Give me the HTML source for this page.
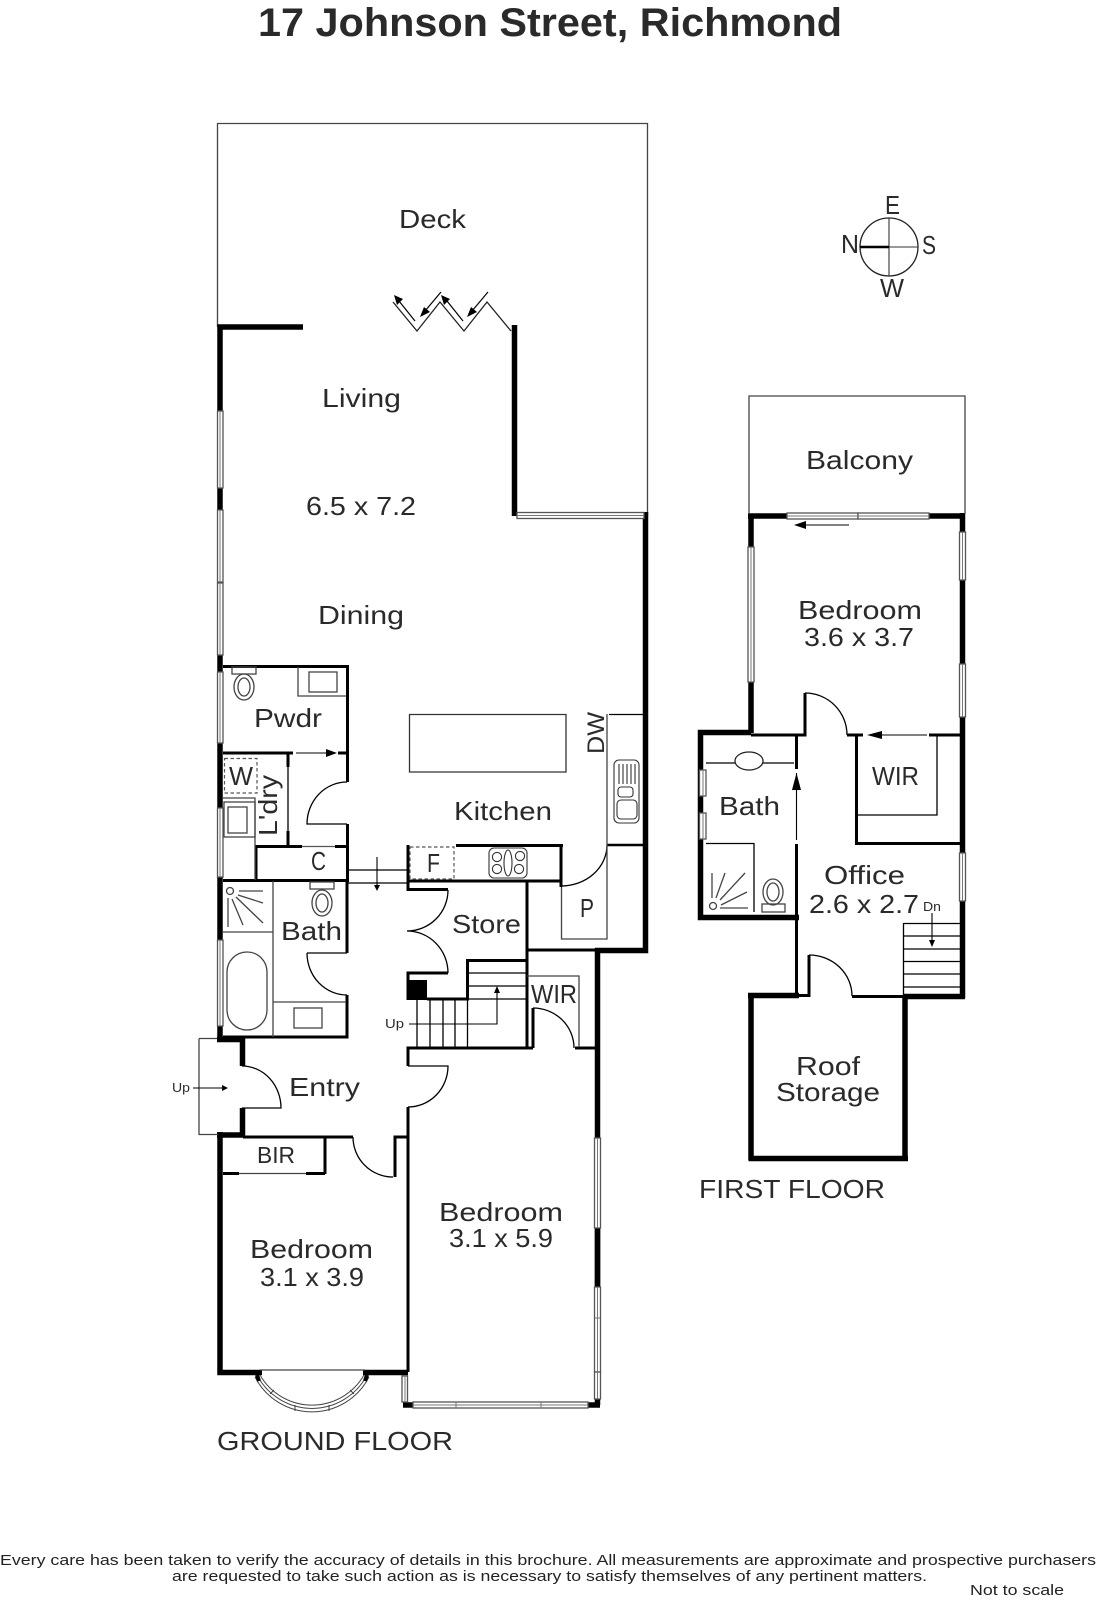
<!DOCTYPE html>
<html>
<head>
<meta charset="utf-8">
<style>
html,body{margin:0;padding:0;background:#fff;}
svg{display:block;}
text{font-family:"Liberation Sans",sans-serif;fill:#2a2a2a;}
.l{font-size:26px;}
.s{font-size:13px;}
.f{font-size:15px;fill:#222;}
.w{fill:#fff;stroke:#555;stroke-width:1.3;}
.c{stroke:#777;stroke-width:1;fill:none;}
.t{stroke:#444;stroke-width:1.3;fill:none;}
.k{stroke:#000;stroke-width:1.3;fill:none;}
</style>
</head>
<body>
<svg width="1097" height="1600" viewBox="0 0 1097 1600" xmlns="http://www.w3.org/2000/svg">
<rect width="1097" height="1600" fill="#fff"/>

<!-- title -->
<text x="258" y="36" font-size="40" font-weight="bold" textLength="584" lengthAdjust="spacingAndGlyphs">17 Johnson Street, Richmond</text>

<!-- deck outline -->
<path class="t" d="M217.5 327V123.5H647.5V516" stroke="#333"/>

<!-- thick walls 5-6px -->
<g fill="none" stroke="#000" stroke-width="5.5">
<path d="M303 327H220V1040"/>
<path d="M514.5 325V516"/>
<path d="M645.5 512V950.5H595"/>
<path d="M597.5 948V1287"/>
<path d="M597.5 1228V1405"/>
<path d="M220 1132V1372.5H262"/>
<path d="M363 1372.5H408"/>
<path d="M217 1039.5H242.5V1066"/>
<path d="M242.5 1108V1135H217"/>
<path d="M403 1405H413"/>
<path d="M588 1405H600"/>
<path d="M748 516H787"/>
<path d="M929 516H965"/>
<path d="M751 516V733"/>
<path d="M962.5 513V998"/>
<path d="M751 732.5H700.5V917.5H799"/>
<path d="M748 995.5H799"/>
<path d="M751 993V1160"/>
<path d="M905 996V1160"/>
<path d="M748.5 1158.5H908"/>
<path d="M903 996.5H965"/>
</g>

<!-- medium walls 3px -->
<g fill="none" stroke="#000" stroke-width="3">
<path d="M223 666.5H347.5V782"/>
<path d="M347.5 824V880.5H223"/>
<path d="M223 753H293"/>
<path d="M338 753H347"/>
<path d="M288 753V767"/>
<path d="M288 831V846"/>
<path d="M256 880V846.5H302"/>
<path d="M335 846.5H347"/>
<path d="M347 880V953"/>
<path d="M347 995V1037H223"/>
<path d="M408 845V889.5H448"/>
<path d="M408 881H561"/>
<path d="M561 845V887"/>
<path d="M456 845.5H563"/>
<path d="M527 881V1048"/>
<path d="M527 950H597"/>
<path d="M448 973H408V1000"/>
<path d="M427 999H467.5V960.5H527"/>
<path d="M408 1066V1048H533"/>
<path d="M533 1048V1008"/>
<path d="M575 1048H595"/>
<path d="M408 1107V1372"/>
<path d="M243 1137H353"/>
<path d="M408 1137H395V1177"/>
<path d="M325 1137V1174"/>
<path d="M223 1173.5H239"/>
<path d="M306 1173.5H325"/>
<path d="M751 735H805V693"/>
<path d="M847 735H863"/>
<path d="M929 735H960"/>
<path d="M796.5 735V769"/>
<path d="M796.5 844V996"/>
<path d="M856.5 735V843.5H960"/>
<path d="M796 995.5H809V955"/>
<path d="M852 996.5H903"/>
</g>

<!-- thin lines black -->
<g class="k">
<path d="M288 767V831"/>
<path d="M302 846.5H335" stroke="#555"/>
<path d="M609 714.5H643"/>
<path d="M409.5 714.5H566V772H409.5Z" stroke="#333"/>
<path d="M347 870H408"/>
<path d="M347 883H408" />
<path d="M467 973H527M467 986H527M467 999H527"/>
<path d="M417 999V1047M430 999V1047M443 999V1047M455 999V1047"/>
<path d="M467.5 999V1047"/>
<path d="M857 815H937V735"/>
<path d="M706 763H735M763 763H794"/>
<path d="M903.5 923.5H960M903.5 936H960M903.5 949H960M903.5 961.5H960M903.5 974H960M903.5 987H960M903.5 923V996"/>
<path d="M706 843.5H754V912"/>
<path d="M607 845H643" stroke-width="2.4"/>
</g>

<!-- door arcs -->
<g class="k">
<path d="M347 782A40 42 0 0 0 307 824H347"/>
<path d="M307 953H347M307 953A40 42 0 0 0 347 995"/>
<path d="M448 890A41 41 0 0 1 407 931A41 42 0 0 1 448 973"/>
<path d="M408 1066H448A40 41 0 0 1 408 1107"/>
<path d="M242 1066A39 42 0 0 1 281 1108H242"/>
<path d="M353 1137A40 40 0 0 0 393 1177"/>
<path d="M533 1008A41 40 0 0 1 574 1048"/>
<path d="M561 886A46 41 0 0 0 607 845"/>
<path d="M805 693A42 42 0 0 1 847 735"/>
<path d="M809 955A43 41 0 0 1 852 996"/>
</g>

<!-- gray lines -->
<g class="t">
<path d="M199 1038.5H217M199 1038.5V1134.5H218"/>
<path d="M239 1173.5H306"/>
<path d="M607 714V939H561.5V887"/>
<path d="M527 976H579V1047"/>
<path d="M298 667V696H346"/>
<rect x="309" y="672" width="28" height="20"/>
<path d="M223 798H255V880"/>
<rect x="224" y="802" width="31" height="35"/>
<rect x="228" y="807" width="19" height="26"/>
<path d="M223 932H273M273 881V1037M273 1002H346"/>
<rect x="294" y="1008" width="28" height="20"/>
<rect x="227" y="952" width="40" height="78" rx="20" ry="20"/>
<path d="M260 1370H365"/>
</g>

<!-- dashed appliances -->
<g fill="none" stroke="#555" stroke-width="1.2" stroke-dasharray="3.5 2.5">
<rect x="224.5" y="758.5" width="32.5" height="34.5"/>
<rect x="410" y="847" width="44" height="32"/>
</g>

<!-- toilets -->
<g class="t">
<rect x="232" y="667" width="24" height="7"/>
<ellipse cx="244" cy="687" rx="10" ry="13"/><ellipse cx="244" cy="687" rx="6" ry="9"/>
<rect x="310" y="882" width="24" height="7"/>
<ellipse cx="322" cy="903" rx="10" ry="13"/><ellipse cx="322" cy="903" rx="6" ry="9"/>
<rect x="762" y="904" width="23" height="8"/>
<ellipse cx="773" cy="892" rx="10" ry="13"/><ellipse cx="773" cy="892" rx="6" ry="9"/>
<ellipse cx="749" cy="761" rx="14" ry="9" stroke="#222"/>
</g>

<!-- shower heads -->
<g class="t">
<circle cx="230" cy="891" r="3.5"/>
<path d="M239 891H263M238 895L263 903M236 897L263 923M232 899L243 925M228 898V927"/>
<circle cx="713" cy="906" r="3.5"/>
<path d="M712 873V898M725 873L716 898M745 873L720 900M747 892L721 905M748 908H720"/>
</g>

<!-- kitchen fixtures -->
<g fill="none" stroke="#333" stroke-width="1.1">
<rect x="614" y="760" width="25" height="63" rx="5"/>
<rect x="618" y="787" width="15" height="10" rx="3"/>
<rect x="617" y="800" width="20" height="19" rx="4"/>
<path d="M619 764V784M623 764V784M627 764V784M631 764V784M635 764V784"/>
<rect x="489" y="848" width="38" height="30" rx="5"/>
<circle cx="497" cy="857" r="4.6"/><circle cx="520" cy="856" r="4.6"/>
<circle cx="497" cy="869" r="4.6"/><circle cx="519" cy="869" r="4.6"/>
<ellipse cx="508" cy="863" rx="4" ry="13"/>
</g>

<!-- stair pillar -->
<rect x="407" y="980" width="20" height="20" fill="#000"/>

<!-- windows -->
<g>
<rect class="w" x="217.5" y="411" width="5.5" height="77"/>
<rect class="w" x="217.5" y="510" width="5.5" height="72"/>
<rect class="w" x="217.5" y="583" width="5.5" height="72"/>
<rect class="w" x="217.5" y="672" width="5.5" height="71"/>
<rect class="w" x="217.5" y="808" width="5.5" height="69"/>
<rect class="w" x="217.5" y="940" width="5.5" height="86"/>
<rect class="w" x="517" y="512.5" width="127" height="6"/>
<rect class="w" x="594.5" y="1138" width="6" height="90"/>
<rect class="w" x="594.5" y="1287" width="6" height="85"/>
<rect class="w" x="594.5" y="1372" width="6" height="27"/>
<rect class="w" x="402" y="1376" width="5.5" height="26"/>
<rect class="w" x="413" y="1402" width="175" height="6"/>
<rect class="w" x="787" y="513" width="71" height="6"/>
<rect class="w" x="858" y="513" width="71" height="6"/>
<rect class="w" x="748" y="547" width="6" height="135"/>
<rect class="w" x="959.5" y="532" width="6" height="48"/>
<rect class="w" x="959.5" y="664" width="6" height="53"/>
<rect class="w" x="959.5" y="853" width="6" height="48"/>
<rect class="w" x="699.5" y="770" width="6.5" height="26"/>
<rect class="w" x="699.5" y="813" width="6.5" height="26"/>
</g>
<g class="c">
<path d="M220 411V488M220 510V582M220 583V655M220 672V743M220 808V877M220 940V1026"/>
<path d="M517 515.5H644"/>
<path d="M597.5 1138V1228M597.5 1287V1399M595 1318H600"/>
<path d="M405 1376V1402"/>
<path d="M413 1405H588M456 1402V1408M541 1402V1408"/>
<path d="M787 516H929"/>
<path d="M751 547V682M962.5 532V580M962.5 664V717M962.5 853V901"/>
<path d="M703 770V796M703 813V839"/>
</g>

<!-- bay window -->
<g fill="none" stroke="#444" stroke-width="1">
<path d="M255 1377A64 64 0 0 0 369 1377"/>
<path d="M257.5 1376A62 62 0 0 0 366.5 1376"/>
<path d="M260 1375A60 60 0 0 0 364 1375"/>
<path d="M270 1394L274 1390M295 1411V1405M329 1411V1405M350 1390L354 1394"/>
</g>
<path d="M257 1375L259 1381M367 1375L365 1381" stroke="#000" stroke-width="4" fill="none"/>

<!-- bifold door -->
<path d="M393 302L417 331L440 302L464 331L487 302L511 331" fill="none" stroke="#222" stroke-width="1.3"/>
<g fill="none" stroke="#000" stroke-width="1.2">
<path d="M415 321L399 301"/><path d="M441 292L425 311"/><path d="M463 321L447 301"/><path d="M488 292L472 311"/>
</g>
<g fill="#000">
<polygon points="394,295 403,299 397,305"/>
<polygon points="420,317 424,307 430,312"/>
<polygon points="441,295 450,299 444,305"/>
<polygon points="467,317 471,307 477,312"/>
</g>

<!-- arrows -->
<g stroke="#000" stroke-width="1.1" fill="none">
<path d="M296 753H326"/>
<path d="M377 857V885"/>
<path d="M409 1024H497V993"/>
<path d="M193 1088H222"/>
<path d="M806 525H849"/>
<path d="M878 735H927"/>
<path d="M796.500 773V840"/>
<path d="M932 913V940"/>
</g>
<g fill="#000">
<polygon points="326,749 337,753 326,757"/>
<polygon points="374,885 380,885 377,891"/>
<polygon points="494,993 500,993 497,986"/>
<polygon points="222,1085 228,1088 222,1091"/>
<polygon points="806,521 794,525 806,529"/>
<polygon points="882,731 867,735 882,739"/>
<polygon points="792,790 801,790 796.500,773"/>
<polygon points="929,940 935,940 932,947"/>
</g>

<!-- balcony -->
<path class="t" d="M749 514V396H965V514" stroke="#333"/>

<!-- compass -->
<circle cx="889" cy="247" r="29" fill="none" stroke="#222" stroke-width="1.3"/>
<path d="M889 218V276M860 247H918" stroke="#333" stroke-width="1.1" fill="none"/>
<path d="M860 247H889" stroke="#000" stroke-width="2.4" fill="none"/>
<text class="l" x="885" y="214" textLength="15" lengthAdjust="spacingAndGlyphs">E</text>
<text class="l" x="841" y="253" textLength="18" lengthAdjust="spacingAndGlyphs">N</text>
<text class="l" x="922" y="254" textLength="14" lengthAdjust="spacingAndGlyphs">S</text>
<text class="l" x="880" y="297" textLength="24" lengthAdjust="spacingAndGlyphs">W</text>

<!-- labels -->
<g class="l">
<text x="399" y="228" textLength="67" lengthAdjust="spacingAndGlyphs">Deck</text>
<text x="322" y="407" textLength="79" lengthAdjust="spacingAndGlyphs">Living</text>
<text x="306" y="515" textLength="110" lengthAdjust="spacingAndGlyphs">6.5 x 7.2</text>
<text x="318" y="624" textLength="86" lengthAdjust="spacingAndGlyphs">Dining</text>
<text x="254" y="727" textLength="68" lengthAdjust="spacingAndGlyphs">Pwdr</text>
<text x="454" y="820" textLength="98" lengthAdjust="spacingAndGlyphs">Kitchen</text>
<text x="229" y="785" textLength="24" lengthAdjust="spacingAndGlyphs">W</text>
<text x="311" y="870" textLength="15" lengthAdjust="spacingAndGlyphs">C</text>
<text x="427" y="872" textLength="13" lengthAdjust="spacingAndGlyphs">F</text>
<text x="452" y="933" textLength="69" lengthAdjust="spacingAndGlyphs">Store</text>
<text x="580" y="917" textLength="14" lengthAdjust="spacingAndGlyphs">P</text>
<text x="281" y="940" textLength="61" lengthAdjust="spacingAndGlyphs">Bath</text>
<text x="531" y="1003" textLength="46" lengthAdjust="spacingAndGlyphs">WIR</text>
<text x="289" y="1096" textLength="71" lengthAdjust="spacingAndGlyphs">Entry</text>
<text x="257" y="1163" textLength="38" lengthAdjust="spacingAndGlyphs" style="font-size:23px">BIR</text>
<text x="250" y="1258" textLength="123" lengthAdjust="spacingAndGlyphs">Bedroom</text>
<text x="260" y="1286" textLength="104" lengthAdjust="spacingAndGlyphs">3.1 x 3.9</text>
<text x="439" y="1221" textLength="124" lengthAdjust="spacingAndGlyphs">Bedroom</text>
<text x="449" y="1247" textLength="104" lengthAdjust="spacingAndGlyphs">3.1 x 5.9</text>
<text x="217" y="1450" textLength="236" lengthAdjust="spacingAndGlyphs">GROUND FLOOR</text>
<text x="806" y="469" textLength="107" lengthAdjust="spacingAndGlyphs">Balcony</text>
<text x="798" y="619" textLength="124" lengthAdjust="spacingAndGlyphs">Bedroom</text>
<text x="804" y="646" textLength="110" lengthAdjust="spacingAndGlyphs">3.6 x 3.7</text>
<text x="872" y="785" textLength="47" lengthAdjust="spacingAndGlyphs">WIR</text>
<text x="719" y="815" textLength="61" lengthAdjust="spacingAndGlyphs">Bath</text>
<text x="824" y="884" textLength="81" lengthAdjust="spacingAndGlyphs">Office</text>
<text x="809" y="913" textLength="110" lengthAdjust="spacingAndGlyphs">2.6 x 2.7</text>
<text x="796" y="1075" textLength="64" lengthAdjust="spacingAndGlyphs">Roof</text>
<text x="776" y="1101" textLength="104" lengthAdjust="spacingAndGlyphs">Storage</text>
<text x="699" y="1198" textLength="186" lengthAdjust="spacingAndGlyphs">FIRST FLOOR</text>
<text transform="translate(604 754) rotate(-90)" textLength="42" lengthAdjust="spacingAndGlyphs" style="font-size:24px">DW</text>
<text transform="translate(277 836) rotate(-90)" textLength="61" lengthAdjust="spacingAndGlyphs">L'dry</text>
</g>
<text class="s" x="385" y="1028" textLength="19" lengthAdjust="spacingAndGlyphs">Up</text>
<text class="s" x="172" y="1092" textLength="18" lengthAdjust="spacingAndGlyphs">Up</text>
<text class="s" x="923" y="911" textLength="18" lengthAdjust="spacingAndGlyphs">Dn</text>

<!-- footer -->
<text class="f" x="0" y="1565" textLength="1096" lengthAdjust="spacingAndGlyphs">Every care has been taken to verify the accuracy of details in this brochure.  All measurements are approximate and prospective purchasers</text>
<text class="f" x="172" y="1581" textLength="755" lengthAdjust="spacingAndGlyphs">are requested to take such action as is necessary to satisfy themselves of any pertinent matters.</text>
<text class="f" x="970" y="1595" textLength="94" lengthAdjust="spacingAndGlyphs">Not to scale</text>
</svg>
</body>
</html>
